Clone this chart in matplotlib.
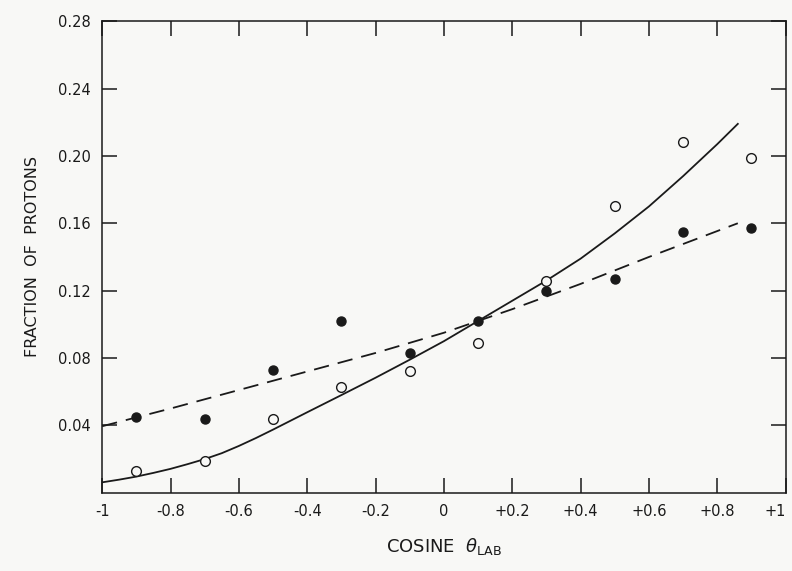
import numpy as np
import matplotlib
matplotlib.use('Agg')
import matplotlib.pyplot as plt

# Punts experimentals llegits de la figura
cos_theta   = [-0.9, -0.7, -0.5, -0.3, -0.1, 0.1, 0.3, 0.5, 0.7, 0.9]
open_frac   = [0.013, 0.019, 0.044, 0.063, 0.072, 0.089, 0.126, 0.170, 0.208, 0.199]
filled_frac = [0.045, 0.044, 0.073, 0.102, 0.083, 0.102, 0.120, 0.127, 0.155, 0.157]

# Corba contínua (ajust dels cercles oberts)
solid_x = [-1.0, -0.95, -0.9, -0.85, -0.8, -0.75, -0.7, -0.65, -0.6, -0.55, -0.5, -0.4,
           -0.3, -0.2, -0.1, 0.0, 0.1, 0.2, 0.3, 0.4, 0.5, 0.6, 0.7, 0.8, 0.86]
solid_y = [0.0062, 0.0078, 0.0096, 0.0118, 0.0142, 0.0170, 0.0200, 0.0235, 0.0278,
           0.0325, 0.0375, 0.0478, 0.0580, 0.0683, 0.0790, 0.0900, 0.102, 0.114, 0.126,
           0.139, 0.154, 0.170, 0.188, 0.207, 0.219]

# Corba discontínua (ajust dels cercles plens)
dash_x = [-1.0, -0.8, -0.6, -0.4, -0.2, 0.0, 0.2, 0.4, 0.6, 0.86]
dash_y = [0.0395, 0.050, 0.061, 0.072, 0.083, 0.095, 0.109, 0.124, 0.140, 0.160]

x_ticks  = [-1.0, -0.8, -0.6, -0.4, -0.2, 0.0, 0.2, 0.4, 0.6, 0.8, 1.0]
x_labels = ['-1', '-0.8', '-0.6', '-0.4', '-0.2', '0', '+0.2', '+0.4', '+0.6', '+0.8', '+1']
y_ticks  = [0.04, 0.08, 0.12, 0.16, 0.20, 0.24, 0.28]
y_labels = ['0.04', '0.08', '0.12', '0.16', '0.20', '0.24', '0.28']

ink = '#1a1a1a'
paper = '#f8f8f6'

fig = plt.figure(figsize=(7.92, 5.71), dpi=100, facecolor=paper)
ax = fig.add_axes([0.129, 0.137, 0.863, 0.826], facecolor=paper)

ax.plot(solid_x, solid_y, color=ink, linewidth=1.3)
ax.plot(dash_x, dash_y, color=ink, linewidth=1.3, dashes=(8.5, 5))

ax.plot(cos_theta, open_frac, 'o', markersize=7, markerfacecolor=paper,
        markeredgecolor=ink, markeredgewidth=1.0, linestyle='none')
ax.plot(cos_theta, filled_frac, 'o', markersize=6.5, markerfacecolor=ink,
        markeredgecolor=ink, linestyle='none')

ax.set_xlim(-1, 1)
ax.set_ylim(0, 0.28)
ax.set_xticks(x_ticks)
ax.set_xticklabels(x_labels)
ax.set_yticks(y_ticks)
ax.set_yticklabels(y_labels)

ax.tick_params(direction='in', length=11, width=1.1, color=ink,
               top=True, right=True, labelsize=10.5, labelcolor=ink, pad=8)
# l'etiqueta "+1" queda just a la vora dreta
ax.get_xticklabels()[-1].set_horizontalalignment('right')

for sp in ax.spines.values():
    sp.set_linewidth(1.1)
    sp.set_color(ink)

ax.set_ylabel('FRACTION  OF  PROTONS', fontsize=11.5, color=ink, labelpad=13)
ax.set_xlabel(r'COSINE  $\theta_{\mathrm{LAB}}$', fontsize=13, color=ink, labelpad=12)

plt.savefig('out.png', dpi=100, facecolor=paper)
plt.close()
